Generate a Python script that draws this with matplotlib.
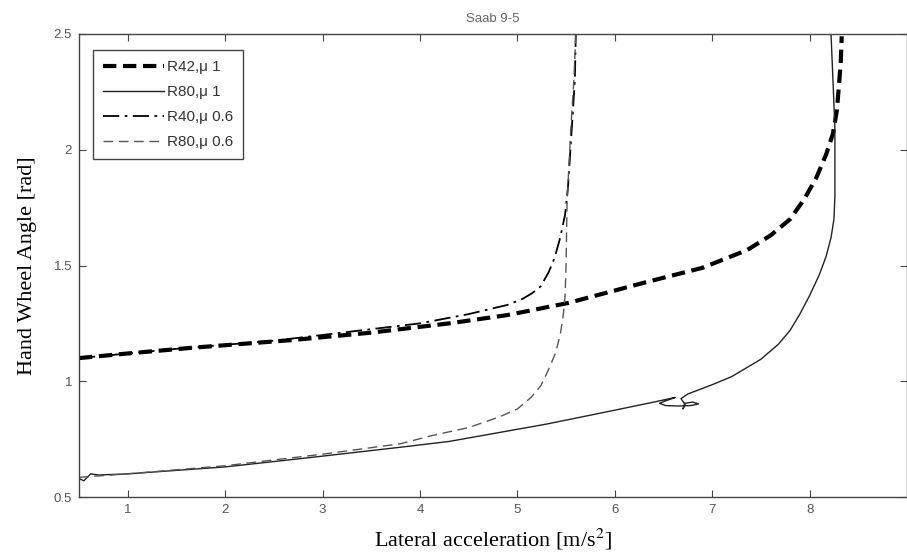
import matplotlib
matplotlib.use("Agg")
import matplotlib.pyplot as plt
import numpy as np

# values
# R42, mu 1
r42_mu1_x = [0.5, 1.0, 1.67, 2.69, 3.5, 4.3, 4.9, 5.52, 6.34, 6.9, 7.36, 7.6, 7.8, 7.95, 8.07, 8.17,
             8.24, 8.28, 8.30, 8.32, 8.33]
r42_mu1_y = [1.10, 1.12, 1.145, 1.178, 1.21, 1.25, 1.286, 1.338, 1.43, 1.49, 1.567, 1.63, 1.70, 1.79, 1.88, 1.98,
             2.07, 2.17, 2.27, 2.38, 2.49]

# R80, mu 1 (with the small loop near 6.7)
r80_mu1_x = [0.5, 0.55, 0.62, 0.7, 1.0, 2.0, 2.8, 3.8, 4.3, 5.3, 6.0, 6.4, 6.62,
             6.52, 6.46, 6.52, 6.65, 6.78, 6.86, 6.80, 6.72, 6.70, 6.72, 6.68, 6.75,
             7.0, 7.2, 7.36, 7.5, 7.68, 7.8, 7.9, 8.0, 8.1, 8.17, 8.22, 8.25, 8.26, 8.26, 8.24, 8.22]
r80_mu1_y = [0.58, 0.57, 0.60, 0.595, 0.60, 0.63, 0.667, 0.715, 0.74, 0.815, 0.875, 0.91, 0.93,
             0.915, 0.905, 0.895, 0.893, 0.895, 0.902, 0.91, 0.905, 0.88, 0.90, 0.925, 0.945,
             0.985, 1.02, 1.06, 1.095, 1.16, 1.22, 1.29, 1.37, 1.46, 1.54, 1.62, 1.70, 1.80, 2.09, 2.3, 2.5]

# R40, mu 0.6
r40_mu06_x = [0.5, 1.5, 2.5, 3.0, 3.5, 4.0, 4.5, 4.9, 5.05, 5.15, 5.24, 5.32, 5.38, 5.44, 5.49, 5.52,
              5.56, 5.59, 5.60]
r40_mu06_y = [1.10, 1.14, 1.175, 1.20, 1.225, 1.25, 1.29, 1.33, 1.355, 1.38, 1.41, 1.47, 1.53, 1.62, 1.72, 1.84,
              2.1, 2.3, 2.5]

# R80, mu 0.6
r80_mu06_x = [0.5, 1.0, 2.0, 3.0, 3.8, 4.12, 4.5, 4.81, 5.0, 5.14, 5.24, 5.32, 5.39, 5.44, 5.47, 5.49,
              5.50, 5.51, 5.55, 5.58, 5.60]
r80_mu06_y = [0.585, 0.60, 0.635, 0.685, 0.73, 0.765, 0.80, 0.845, 0.88, 0.93, 0.98, 1.05, 1.12, 1.20, 1.28, 1.37,
              1.50, 1.77, 2.1, 2.3, 2.5]

labels = ["R42,\u03bc 1", "R80,\u03bc 1", "R40,\u03bc 0.6", "R80,\u03bc 0.6"]
x_ticks = [1, 2, 3, 4, 5, 6, 7, 8]
y_ticks = [0.5, 1, 1.5, 2, 2.5]

plt.rcParams['font.family'] = ['Liberation Sans', 'DejaVu Sans']
plt.rcParams['mathtext.fontset'] = 'stix'

fig = plt.figure(figsize=(9.07, 5.55), dpi=100)
ax = fig.add_axes([79 / 907, 1 - 497 / 555, 1 - 79 / 907, (497 - 34) / 555])

ax.plot(r42_mu1_x, r42_mu1_y, color="black", lw=3, ls=(0, (3.2, 1.6)), label=labels[0])
ax.plot(r80_mu1_x, r80_mu1_y, color="#222222", lw=1.0, ls="-", label=labels[1])
ax.plot(r40_mu06_x, r40_mu06_y, color="black", lw=1.3, ls=(0, (9, 3, 1.5, 3)), label=labels[2])
ax.plot(r80_mu06_x, r80_mu06_y, color="#555555", lw=1.0, ls=(0, (7, 4)), label=labels[3])

ax.set_xlim(0.5, 9)
ax.set_ylim(0.5, 2.5)
ax.set_xticks(x_ticks)
ax.set_yticks(y_ticks)
ax.set_yticklabels(["0.5", "1", "1.5", "2", "2.5"])
ax.tick_params(direction="in", length=5, width=0.8, top=True, right=True,
               labelsize=9.5, labelcolor="#555555", color="#444444", pad=5)
for s in ax.spines.values():
    s.set_color("#444444")
    s.set_linewidth(1.0)

ax.set_title("Saab 9-5", fontsize=9.5, color="#666666", pad=9)
ax.set_xlabel("Lateral acceleration [m/s$^2$]", family="Liberation Serif", fontsize=16, labelpad=8)
ax.set_ylabel("Hand Wheel Angle [rad]", family="Liberation Serif", fontsize=16, labelpad=12)

leg = ax.legend(loc="upper left", bbox_to_anchor=(0.017, 0.965), fontsize=11,
                frameon=True, fancybox=False, framealpha=1, edgecolor="#444444",
                handlelength=4.0, handletextpad=0.2, labelspacing=0.72, borderpad=0.65,
                borderaxespad=0)
leg.get_frame().set_linewidth(1.0)
for t in leg.get_texts():
    t.set_color("#333333")

fig.savefig("out.png", dpi=100)
